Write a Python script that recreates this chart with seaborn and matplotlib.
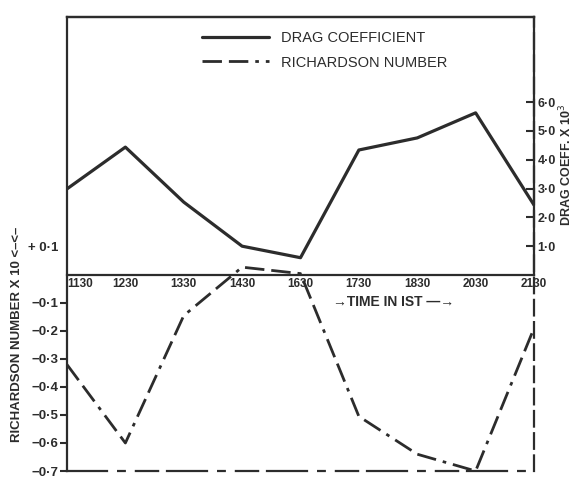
import numpy as np
import pandas as pd
import matplotlib
matplotlib.use("Agg")
import matplotlib.pyplot as plt
import seaborn as sns

# ---- data ----
times = ["1130", "1230", "1330", "1430", "1630", "1730", "1830", "2030", "2130"]
drag_coeff = [2.99, 4.44, 2.53, 1.00, 0.60, 4.34, 4.76, 5.63, 2.43]
richardson = [-0.32, -0.60, -0.145, 0.028, 0.005, -0.505, -0.64, -0.70, -0.19]

ri_ticks = [0.1, -0.1, -0.2, -0.3, -0.4, -0.5, -0.6, -0.7]
ri_tick_labels = ["+ 0·1", "−0·1", "−0·2", "−0·3", "−0·4", "−0·5", "−0·6", "−0·7"]
drag_ticks = [1, 2, 3, 4, 5, 6]
drag_tick_labels = ["1·0", "2·0", "3·0", "4·0", "5·0", "6·0"]

legend_labels = ["DRAG COEFFICIENT", "RICHARDSON NUMBER"]

sns.set_theme(style="white")
plt.rcParams["font.family"] = ["Liberation Sans", "DejaVu Sans"]

ink = "#2c2c2c"
df = pd.DataFrame({"pos": np.arange(len(times)), "time": times,
                   "drag": drag_coeff, "ri": richardson})

fig = plt.figure(figsize=(5.76, 4.79), dpi=100)
fig.patch.set_facecolor("white")
ax = fig.add_axes([67 / 576, 8 / 479, 467 / 576, 454 / 479])
ax2 = ax.twinx()

ri_lim = (-0.7, 0.9214)
drag_lim = (-6.806, 8.958)

sns.lineplot(data=df, x="pos", y="ri", ax=ax, color=ink, lw=2.0,
             linestyle=(0, (7, 2.5, 7, 2.5, 1.3, 2.5)), legend=False)
h_ri = ax.lines[-1]
sns.lineplot(data=df, x="pos", y="drag", ax=ax2, color=ink, lw=2.3,
             legend=False)
h_drag = ax2.lines[-1]

ax.set_xlim(0, len(times) - 1)
ax.set_ylim(*ri_lim)
ax2.set_ylim(*drag_lim)
ax.set_facecolor("none")

# spines / frame
for s in ax.spines.values():
    s.set_color(ink)
    s.set_linewidth(1.6)
for s in ax2.spines.values():
    s.set_color(ink)
    s.set_linewidth(1.6)
ax.spines["bottom"].set_position(("data", 0))
ax.spines["right"].set_linestyle((0, (7, 3)))
ax2.spines["left"].set_visible(False)
ax2.spines["bottom"].set_linestyle((0, (18, 5, 3, 5, 10, 4)))
ax2.spines["right"].set_bounds(0, drag_lim[1])

# x ticks on the zero line
ax.set_xticks(df["pos"], labels=times)
ax.tick_params(axis="x", length=0, pad=2, labelsize=8.5, colors=ink)
for t in ax.get_xticklabels():
    t.set_fontweight("bold")
ax.get_xticklabels()[0].set_horizontalalignment("left")
ax.set_xlabel("")
ax2.tick_params(axis="x", bottom=False, top=False, labelbottom=False)

# left ticks
ax.set_yticks(ri_ticks, labels=ri_tick_labels)
ax.tick_params(axis="y", direction="out", length=5, width=1.5, pad=1,
               labelsize=9.5, colors=ink, left=True)
for t in ax.get_yticklabels():
    t.set_fontweight("bold")
ax.yaxis.get_major_ticks()[0].tick1line.set_visible(False)

# right ticks
ax2.set_yticks(drag_ticks, labels=drag_tick_labels)
ax2.tick_params(axis="y", direction="in", length=6, width=1.5, pad=2.5,
                labelsize=9, colors=ink, right=True)
for t in ax2.get_yticklabels():
    t.set_fontweight("bold")

# axis labels
ax.set_ylabel("RICHARDSON NUMBER X 10 <–<–", fontsize=9.5, fontweight="bold",
              color=ink)
ax.yaxis.set_label_coords(-0.094, 0.300)
ax2.set_ylabel("DRAG COEFF. X 10$^3$", fontsize=9, fontweight="bold",
               color=ink)
ax2.yaxis.set_label_coords(1.051, 0.674)

ax.text(0.70, 0.372, "→TIME IN IST —→", transform=ax.transAxes,
        ha="center", va="center", fontsize=10, fontweight="bold", color=ink)

leg = ax2.legend(handles=[h_drag, h_ri], labels=legend_labels,
                 loc="upper left", bbox_to_anchor=(0.289, 0.970),
                 frameon=False, handlelength=4.6, handletextpad=0.8,
                 labelspacing=0.75, borderpad=0, borderaxespad=0,
                 fontsize=10.5)
for t in leg.get_texts():
    t.set_color(ink)

fig.savefig("out.png", dpi=100, facecolor="white")
